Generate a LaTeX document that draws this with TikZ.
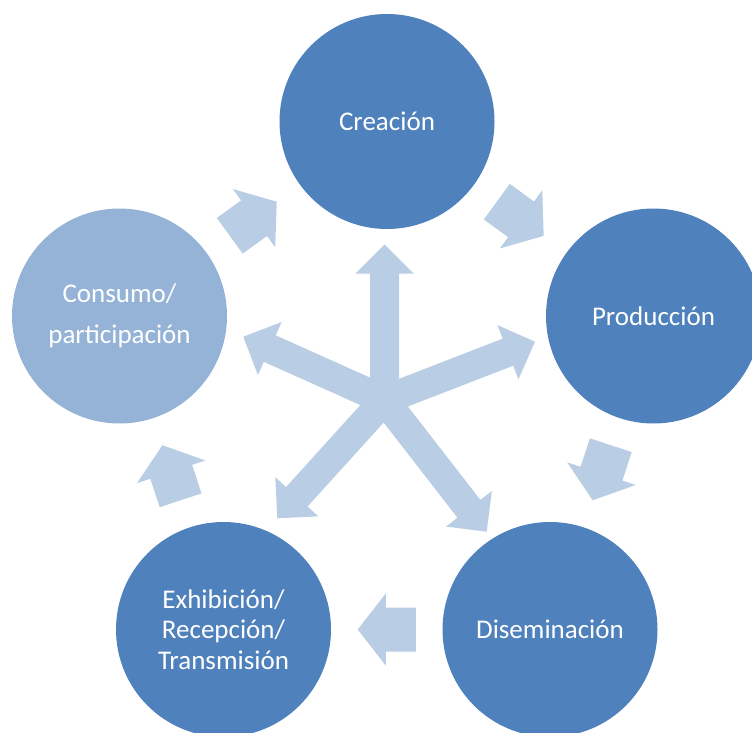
\documentclass[tikz,border=0pt]{standalone}
\usepackage{fontspec}
\setmainfont{Carlito}
\usetikzlibrary{calc}
\definecolor{darkb}{HTML}{4F81BD}
\definecolor{lightb}{HTML}{95B3D7}
\definecolor{arrowb}{HTML}{B9CDE5}
\tikzset{
  bigcirc/.style={circle, minimum size=215pt, inner sep=0pt, align=center,
    text=white, font=\fontsize{27}{30.5}\selectfont},
  arrowc/.style={fill=arrowb},
}
% block arrow: #1 start, #2 tip, #3 shaft half width, #4 head half width, #5 head length
\newcommand\barrow[5]{%
  \coordinate (hb) at ($(#2)!#5!(#1)$);
  \fill[arrowc] ($(#1)!#3!90:(#2)$) -- ($(hb)!#3!90:(#2)$) -- ($(hb)!#4!90:(#2)$)
    -- (#2) -- ($(hb)!#4!-90:(#2)$) -- ($(hb)!#3!-90:(#2)$) -- ($(#1)!#3!-90:(#2)$) -- cycle;}
% cycle arrow between two circle nodes
\newcommand\cyc[2]{%
  \coordinate (mm) at ($(#1.center)!0.5!(#2.center)$);
  \coordinate (ss) at ($(mm)!29pt!(#1.center)$);
  \coordinate (tt) at ($(mm)!29pt!(#2.center)$);
  \barrow{ss}{tt}{22pt}{36pt}{28pt}}
\begin{document}
\begin{tikzpicture}[x=1pt,y=-1pt]
\useasboundingbox (0,0) rectangle (752,733);
\clip (0,0) rectangle (752,733);
\fill[white] (0,0) rectangle (752,733);

% circle positions (nodes defined first, painted over arrows later)
\path (387,121.5) coordinate (pc1) (653.5,316) coordinate (pc2) (550,629.5) coordinate (pc3)
      (223.5,629.5) coordinate (pc4) (119.5,316) coordinate (pc5);

% star of arrows
\coordinate (sc) at (384.5,400);
\coordinate (t1) at (384.5,244.5);
\coordinate (t2) at (535,341.7);
\coordinate (t3) at (243.3,336.7);
\coordinate (t4) at (277.3,518.3);
\coordinate (t5) at (486.7,531.7);
\barrow{sc}{t1}{14.5pt}{29pt}{29pt}
\barrow{sc}{t2}{14.5pt}{29pt}{29pt}
\barrow{sc}{t3}{14.5pt}{29pt}{29pt}
\barrow{sc}{t4}{14.5pt}{29pt}{29pt}
\barrow{sc}{t5}{14.5pt}{29pt}{29pt}

% circles
\node[bigcirc, fill=darkb] (cre) at (pc1) {Creación};
\node[bigcirc, fill=darkb] (pro) at (pc2) {Producción};
\node[bigcirc, fill=darkb] (dis) at (pc3) {Diseminación};
\node[bigcirc, fill=darkb] (exh) at (pc4) {Exhibición/\\Recepción/\\Transmisión};
\node[bigcirc, fill=lightb] (con) at (pc5) {Consumo/\\[10.5pt]participación};

% cycle arrows
\cyc{cre}{pro}
\cyc{pro}{dis}
\cyc{dis}{exh}
\cyc{exh}{con}
\cyc{con}{cre}
\end{tikzpicture}
\end{document}
